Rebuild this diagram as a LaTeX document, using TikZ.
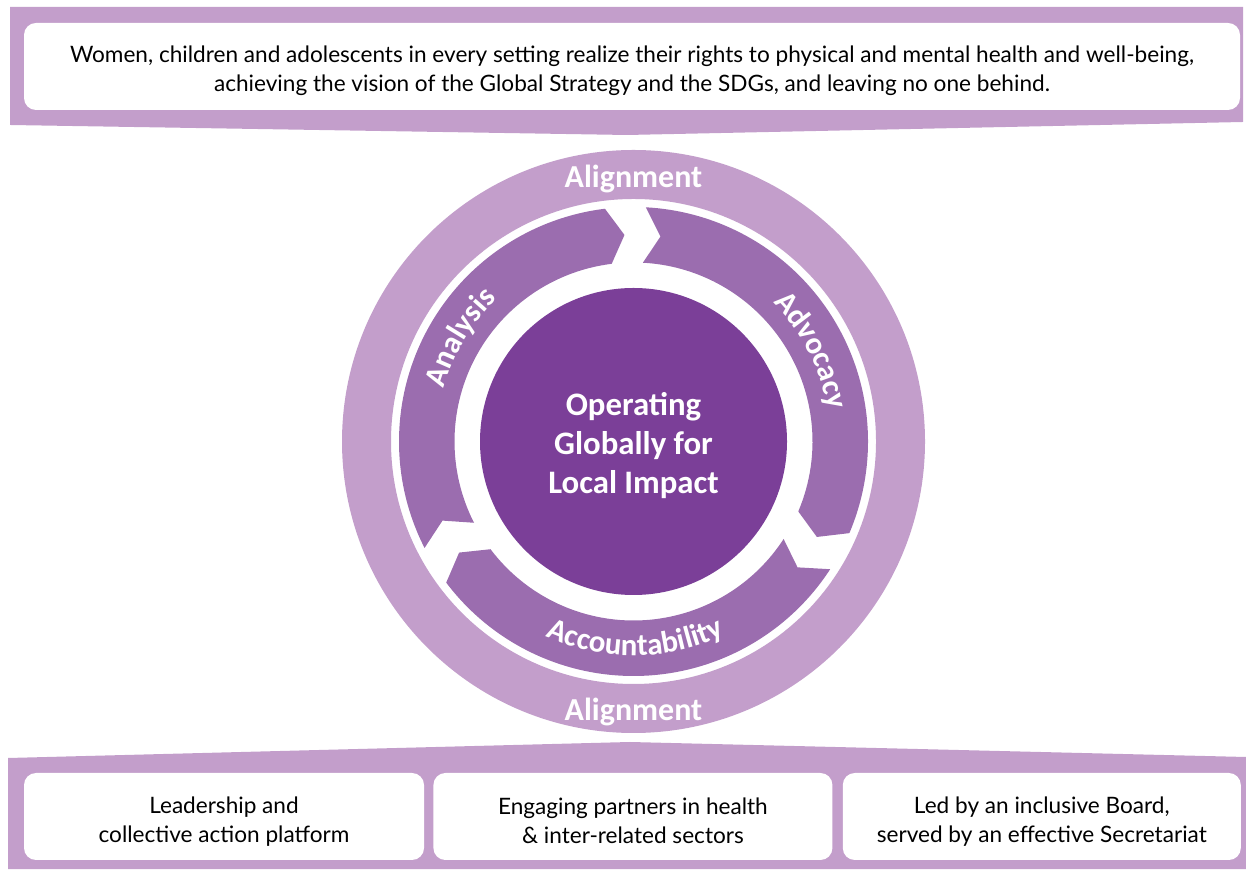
\documentclass[tikz,border=0pt]{standalone}
\usepackage{fontspec}
\setmainfont{Lato}
\newfontfamily\labelfont{Carlito}
\usetikzlibrary{positioning, calc, decorations.text}

\definecolor{bandpurple}{HTML}{C39ECB}
\definecolor{arrowpurple}{HTML}{9B6DAF}
\definecolor{corepurple}{HTML}{7B3F98}

\newcommand{\topstrut}{\rule{0pt}{26pt}}

\begin{document}
\begin{tikzpicture}[x=1pt, y=1pt,
  panel/.style={rectangle, rounded corners=12pt, fill=white, align=center,
    inner sep=0pt, minimum height=87pt, font=\fontsize{22.6}{29}\selectfont},
  ringlabel/.style={anchor=base, text=white, font=\labelfont\bfseries\fontsize{32}{32}\selectfont},
  arrowlabel/.style={decorate, decoration={text along path, text align=center,
    text color=white, text={|\labelfont\bfseries\fontsize{31}{31}\selectfont|#1}}}]

  \useasboundingbox (0,0) rectangle (1246,869);

  % banners
  \fill[bandpurple] (10,862) -- (1243,862) -- (1243,747) -- (627,734) -- (10,744) -- cycle;
  \fill[bandpurple] (8,111) -- (630,127) -- (1246,112) -- (1246,0) -- (8,0) -- cycle;

  \node[panel, minimum width=1216pt] (vision) at (632,802.5)
    {\topstrut Women, children and adolescents in every setting realize their rights to physical and mental health and well-being,\\
     achieving the vision of the Global Strategy and the SDGs, and leaving no one behind.};

  \node[panel, minimum width=400pt] (lead) at (224,52.5) {\topstrut Leadership and\\collective action platform};
  \node[panel, minimum width=399pt, right=9pt of lead] (partners) {\topstrut Engaging partners in health\\\& inter-related sectors};
  \node[panel, minimum width=398pt, right=10pt of partners] (board) {\topstrut Led by an inclusive Board,\\served by an effective Secretariat};

  % ring
  \coordinate (c) at (633.5,427.5);
  \fill[bandpurple, even odd rule] (c) circle (291.5) (c) circle (242.5);

  \foreach \tail/\head in {207/97, 87/-23, -33/-143}
    \fill[arrowpurple] ([shift={(\tail:234.5)}]c) arc (\tail:\head:234.5)
      -- ([shift={(\head-4.5:206.75)}]c) -- ([shift={(\head:179)}]c) arc (\head:\tail:179)
      -- ([shift={(\tail-4.5:206.75)}]c) -- cycle;

  \path[arrowlabel=Analysis] ([shift={(180:197)}]c) arc (180:118:197);
  \path[arrowlabel=Advocacy] ([shift={(58:197)}]c) arc (58:-4:197);
  \path[arrowlabel=Accountability] ([shift={(226:214)}]c) arc (226:315:214);

  \node[circle, fill=corepurple, minimum size=307pt, inner sep=0pt] (core) at (c) {};
  \node[align=center, text=white, font=\labelfont\bfseries\fontsize{32.8}{39}\selectfont]
    (coretext) at ([yshift=-4pt]core.center) {Operating\\Globally for\\Local Impact};

  \node[ringlabel] (alignN) at ([yshift=253.5pt]c) {Alignment};
  \node[ringlabel] (alignS) at ([yshift=-279.5pt]c) {Alignment};
\end{tikzpicture}
\end{document}
